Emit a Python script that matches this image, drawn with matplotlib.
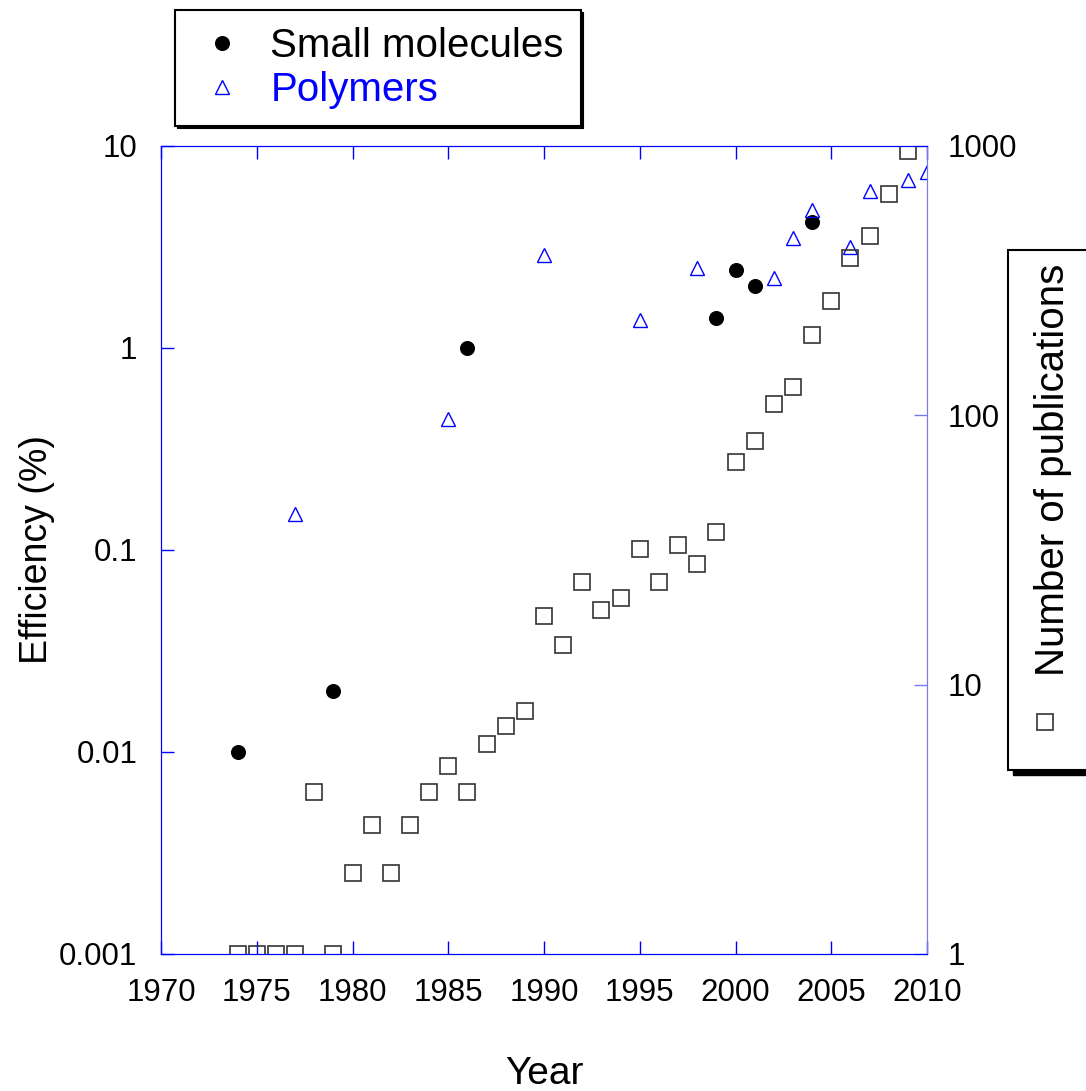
import matplotlib
matplotlib.use("Agg")
import matplotlib.pyplot as plt
from matplotlib.lines import Line2D
from matplotlib.patches import Rectangle
from matplotlib.ticker import FixedLocator, FuncFormatter

plt.rcParams['font.family'] = ['Liberation Sans', 'DejaVu Sans']

# small molecule efficiencies (%)
sm_years = [1974, 1979, 1986, 1999, 2000, 2001, 2004]
sm_eff = [0.01, 0.02, 1.0, 1.41, 2.43, 2.03, 4.2]

# polymer efficiencies (%)
poly_years = [1977, 1985, 1990, 1995, 1998, 2002, 2003, 2004, 2006, 2007, 2009, 2010]
poly_eff = [0.15, 0.445, 2.88, 1.38, 2.49, 2.22, 3.5, 4.8, 3.16, 5.98, 6.79, 7.44]

# number of publications per year
pub_years = list(range(1974, 2010))
pub_count = [1, 1, 1, 1, 4, 1, 2, 3, 2, 3, 4, 5, 4, 6, 7, 8, 18, 14, 24, 19,
             21, 32, 24, 33, 28, 37, 67, 80, 110, 127, 199, 266, 384, 464, 664, 959]

blue = '#0000ff'
light_blue = '#7878f0'

fig = plt.figure(figsize=(10.86, 10.91), dpi=100)
ax = fig.add_axes([0.1483, 0.1256, 0.7053, 0.7406])
ax2 = ax.twinx()

ax.plot(sm_years, sm_eff, 'o', color='black', markersize=9.8, linestyle='none')
ax.plot(poly_years, poly_eff, '^', markerfacecolor='none', markeredgecolor=blue,
        markersize=10, markeredgewidth=1.0, linestyle='none')
ax2.plot(pub_years, pub_count, 's', markerfacecolor='none', markeredgecolor='#333333',
         markersize=11, markeredgewidth=1.2, linestyle='none')

ax.set_xlim(1970, 2010)
ax.set_yscale('log')
ax.set_ylim(0.001, 10)
ax2.set_yscale('log')
ax2.set_ylim(1, 1000)

ax.xaxis.set_major_locator(FixedLocator(range(1970, 2011, 5)))
ax.yaxis.set_major_locator(FixedLocator([0.001, 0.01, 0.1, 1, 10]))
ax.yaxis.set_major_formatter(FuncFormatter(lambda v, p: '%g' % v))
ax.yaxis.set_minor_locator(FixedLocator([]))
ax2.yaxis.set_major_locator(FixedLocator([1, 10, 100, 1000]))
ax2.yaxis.set_major_formatter(FuncFormatter(lambda v, p: '%g' % v))
ax2.yaxis.set_minor_locator(FixedLocator([]))

ax.tick_params(axis='x', direction='in', length=9.5, width=1, color=blue, top=True,
               labelsize=22.5, pad=17)
ax.tick_params(axis='y', direction='in', length=9.5, width=1, color=blue,
               labelsize=22.5, pad=17)
ax2.tick_params(axis='y', direction='in', length=9.5, width=1, color=light_blue,
                labelsize=22.5, pad=15)

for a in (ax, ax2):
    for side in ('left', 'top', 'bottom'):
        a.spines[side].set_color(blue)
    a.spines['right'].set_color(light_blue)

ax.set_xlabel('Year', fontsize=28, labelpad=35)
ax.set_ylabel('Efficiency (%)', fontsize=27, labelpad=3)

# top legend
handles = [Line2D([], [], marker='o', color='black', linestyle='none', markersize=9.8),
           Line2D([], [], marker='^', markerfacecolor='none', markeredgecolor=blue,
                  linestyle='none', markersize=10)]
leg = fig.legend(handles, ['Small molecules', 'Polymers'], loc='upper left',
                 bbox_to_anchor=(0.161, 0.991), borderaxespad=0, fontsize=29,
                 frameon=True, fancybox=False, edgecolor='black', framealpha=1,
                 handlelength=1.5, handletextpad=0.45, borderpad=0.42,
                 labelspacing=0.15, shadow={'color': 'black', 'alpha': 1})
leg.get_frame().set_linewidth(1.5)
leg.get_texts()[1].set_color(blue)

# side legend for publications
fig.patches.append(Rectangle((0.9325, 0.2896), 0.1, 0.4767, transform=fig.transFigure,
                             facecolor='black', edgecolor='black', zorder=1))
fig.patches.append(Rectangle((0.928, 0.2942), 0.1, 0.4767, transform=fig.transFigure,
                             facecolor='white', edgecolor='black', linewidth=1.5,
                             zorder=2))
fig.text(0.9696, 0.569, 'Number of publications', rotation=90, fontsize=29,
         ha='center', va='center', zorder=3)
fig.lines.append(Line2D([0.9622], [0.3382], transform=fig.transFigure, marker='s',
                        markerfacecolor='none', markeredgecolor='#333333',
                        markersize=11, markeredgewidth=1.2, zorder=3))

fig.savefig('out.png', dpi=100)
